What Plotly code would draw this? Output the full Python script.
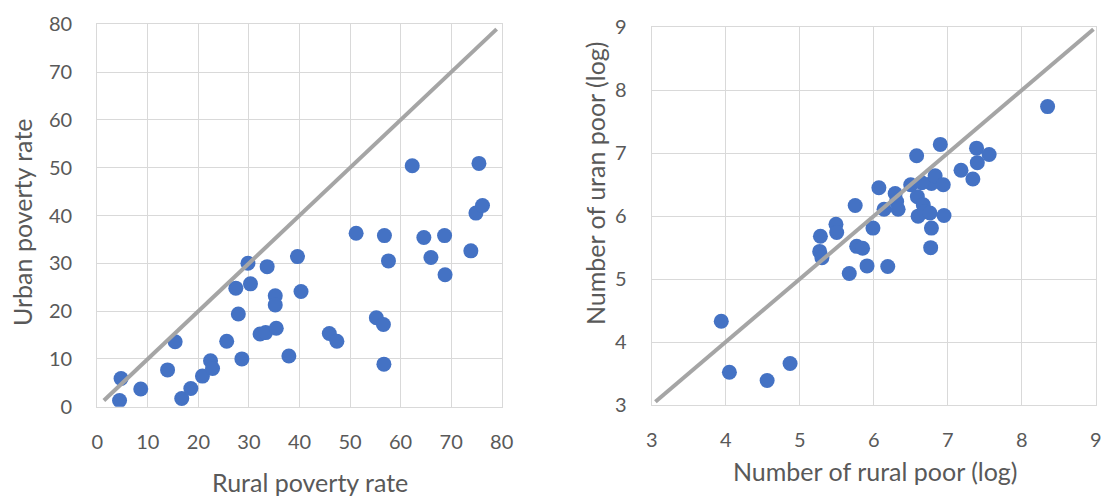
import plotly.graph_objects as go

# Rural vs urban poverty rate (%)
rural_rate = [4.7, 4.4, 8.6, 13.9, 15.4, 16.7, 18.5, 20.8, 22.4, 22.8, 25.6, 27.4,
              27.9, 28.6, 29.8, 30.3, 32.2, 33.3, 33.6, 35.2, 35.2, 35.4, 37.9, 39.6,
              40.3, 45.9, 47.4, 51.2, 55.2, 56.6, 56.8, 57.6, 56.7, 62.3, 64.6, 66.0,
              68.7, 68.8, 73.9, 74.9, 76.2, 75.5]
urban_rate = [5.9, 1.3, 3.7, 7.7, 13.6, 1.7, 3.8, 6.4, 9.6, 8.0, 13.7, 24.8,
              19.4, 10.0, 30.0, 25.7, 15.2, 15.5, 29.3, 23.2, 21.3, 16.4, 10.6, 31.4,
              24.1, 15.3, 13.7, 36.3, 18.6, 17.2, 35.8, 30.5, 8.9, 50.4, 35.4, 31.2,
              35.8, 27.6, 32.6, 40.5, 42.1, 50.9]

# Number of rural vs urban poor (log)
rural_log = [3.94, 4.05, 4.56, 4.87, 5.28, 5.27, 5.30, 5.49, 5.50, 5.67, 5.75, 5.77,
             5.85, 5.91, 5.99, 6.07, 6.14, 6.19, 6.29, 6.31, 6.33, 6.50, 6.58, 6.59,
             6.60, 6.67, 6.69, 6.76, 6.78, 6.77, 6.78, 6.83, 6.90, 6.94, 6.95, 7.18,
             7.34, 7.39, 7.40, 7.56, 8.35, 6.65]
urban_log = [4.33, 3.52, 3.39, 3.66, 5.68, 5.44, 5.34, 5.87, 5.74, 5.09, 6.17, 5.52,
             5.49, 5.21, 5.81, 6.45, 6.11, 5.20, 6.36, 6.23, 6.11, 6.50, 6.96, 6.31,
             6.00, 6.18, 6.07, 6.05, 5.81, 5.50, 6.52, 6.64, 7.14, 6.50, 6.01, 6.73,
             6.59, 7.08, 6.85, 6.98, 7.74, 6.53]

# 45-degree reference lines
eq_line_left = [1.3, 79.0]
eq_line_right = [3.05, 8.97]

rate_ticks = [0, 10, 20, 30, 40, 50, 60, 70, 80]
log_ticks = [3, 4, 5, 6, 7, 8, 9]

BLUE = "#4472C4"
LINE_GREY = "#A5A5A5"
GRID = "#D9D9D9"
TEXT = "#595959"
FONT = "Lato"
TICK_SIZE = 20
TITLE_SIZE = 25

fig = go.Figure()

fig.add_trace(go.Scatter(x=rural_rate, y=urban_rate, mode="markers",
                         marker=dict(color=BLUE, size=15, line=dict(width=0)),
                         xaxis="x", yaxis="y", showlegend=False))
fig.add_trace(go.Scatter(x=eq_line_left, y=eq_line_left, mode="lines",
                         line=dict(color=LINE_GREY, width=4),
                         xaxis="x", yaxis="y", showlegend=False))
fig.add_trace(go.Scatter(x=rural_log, y=urban_log, mode="markers",
                         marker=dict(color=BLUE, size=15, line=dict(width=0)),
                         xaxis="x2", yaxis="y2", showlegend=False))
fig.add_trace(go.Scatter(x=eq_line_right, y=eq_line_right, mode="lines",
                         line=dict(color=LINE_GREY, width=4),
                         xaxis="x2", yaxis="y2", showlegend=False))

W, H = 1102, 498


def px_x(p):
    return p / W


def px_y(p):
    return 1 - p / H


axis_common = dict(showgrid=True, gridcolor=GRID, gridwidth=1.3,
                   showline=True, linecolor=GRID, linewidth=1.3, mirror=True,
                   zeroline=False, ticks="", automargin=False,
                   tickfont=dict(family=FONT, size=TICK_SIZE, color=TEXT),
                   fixedrange=True)

fig.update_layout(
    width=W, height=H,
    margin=dict(l=0, r=0, t=0, b=0, autoexpand=False),
    paper_bgcolor="white", plot_bgcolor="white",
    xaxis=dict(domain=[px_x(97.3), px_x(501.7)], range=[0, 80],
               tickvals=rate_ticks, ticklabelstandoff=17, anchor="y", **axis_common),
    yaxis=dict(domain=[px_y(406.7), px_y(24.3)], range=[0, 80],
               tickvals=rate_ticks, ticklabelstandoff=20, anchor="x", **axis_common),
    xaxis2=dict(domain=[px_x(651.7), px_x(1095.7)], range=[3, 9],
                tickvals=log_ticks, ticklabelstandoff=17, anchor="y2", **axis_common),
    yaxis2=dict(domain=[px_y(405), px_y(27.3)], range=[3, 9],
                tickvals=log_ticks, ticklabelstandoff=20, anchor="x2", **axis_common),
    annotations=[
        dict(text="Rural poverty rate", x=px_x(310), y=px_y(482), xref="paper", yref="paper",
             showarrow=False, font=dict(family=FONT, size=TITLE_SIZE, color=TEXT),
             xanchor="center", yanchor="middle"),
        dict(text="Urban poverty rate", x=px_x(22), y=px_y(223), xref="paper", yref="paper",
             showarrow=False, textangle=-90, font=dict(family=FONT, size=TITLE_SIZE, color=TEXT),
             xanchor="center", yanchor="middle"),
        dict(text="Number of rural poor (log)", x=px_x(875), y=px_y(471), xref="paper", yref="paper",
             showarrow=False, font=dict(family=FONT, size=TITLE_SIZE, color=TEXT),
             xanchor="center", yanchor="middle"),
        dict(text="Number of uran poor (log)", x=px_x(595), y=px_y(184), xref="paper", yref="paper",
             showarrow=False, textangle=-90, font=dict(family=FONT, size=TITLE_SIZE, color=TEXT),
             xanchor="center", yanchor="middle"),
    ],
)

fig.write_html("out.html")
